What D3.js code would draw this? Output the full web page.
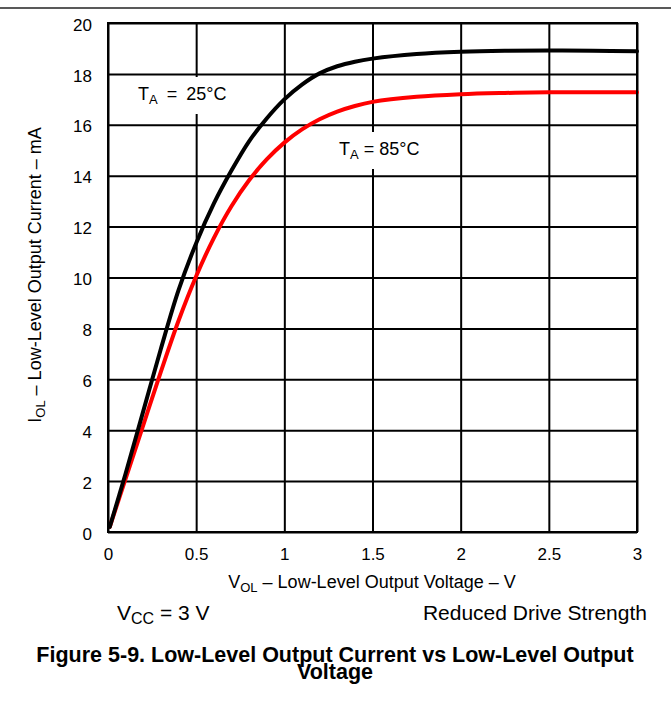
<!DOCTYPE html>
<html>
<head>
<meta charset="utf-8">
<script src="https://cdn.jsdelivr.net/npm/d3@7"></script>
<style>
  body { margin: 0; background: #fff; }
  svg { display: block; font-family: "Liberation Sans", Arial, sans-serif; }
</style>
</head>
<body>
<div id="chart"></div>
<script>
// values
var vol25 = [0.01, 0.1, 0.2, 0.3, 0.4, 0.5, 0.6, 0.7, 0.8, 0.9, 1.0, 1.1, 1.2, 1.3, 1.4, 1.5, 1.75, 2.0, 2.25, 2.5, 2.75, 3.0];
var iol25 = [0.2, 2.3, 4.75, 7.2, 9.5, 11.35, 12.9, 14.2, 15.35, 16.25, 17.0, 17.58, 18.02, 18.3, 18.48, 18.6, 18.78, 18.87, 18.91, 18.92, 18.91, 18.89];
var vol85 = [0.01, 0.1, 0.2, 0.3, 0.4, 0.5, 0.6, 0.7, 0.8, 0.9, 1.0, 1.1, 1.2, 1.3, 1.4, 1.5, 1.75, 2.0, 2.25, 2.5, 2.75, 3.0];
var iol85 = [0.2, 2.1, 4.2, 6.3, 8.3, 10.05, 11.55, 12.8, 13.82, 14.64, 15.3, 15.82, 16.22, 16.52, 16.74, 16.9, 17.1, 17.2, 17.25, 17.28, 17.28, 17.28];

var xTicks = [0, 0.5, 1, 1.5, 2, 2.5, 3];
var xTickLabels = ['0', '0.5', '1', '1.5', '2', '2.5', '3'];
var yTicks = [0, 2, 4, 6, 8, 10, 12, 14, 16, 18, 20];

(function() {
  var W = 671, H = 704;
  var pLeft = 108, pRight = 637, pTop = 23, pBottom = 532;

  var svg = d3.select('#chart').append('svg')
    .attr('width', W).attr('height', H);

  svg.append('rect').attr('width', W).attr('height', H).attr('fill', '#fff');

  // rule at the top of the page
  svg.append('line')
    .attr('x1', 0).attr('x2', W).attr('y1', 8).attr('y2', 8)
    .attr('stroke', '#222').attr('stroke-width', 1.3);

  var x = d3.scaleLinear().domain([0, 3]).range([pLeft, pRight]);
  var y = d3.scaleLinear().domain([0, 20]).range([pBottom, pTop]);

  // grid + tick labels
  var xAxis = svg.append('g')
    .attr('transform', 'translate(0,' + pBottom + ')')
    .call(d3.axisBottom(x).tickValues(xTicks)
      .tickFormat(function(d, i) { return xTickLabels[i]; })
      .tickSize(-(pBottom - pTop)).tickPadding(16));

  var yAxis = svg.append('g')
    .attr('transform', 'translate(' + pLeft + ',0)')
    .call(d3.axisLeft(y).tickValues(yTicks)
      .tickSize(-(pRight - pLeft)).tickPadding(16));

  [xAxis, yAxis].forEach(function(g) {
    g.select('.domain').remove();
    g.selectAll('.tick line').attr('stroke', '#000').attr('stroke-width', 2);
    g.selectAll('.tick text')
      .attr('fill', '#000')
      .style('font-size', '17px')
      .style('font-family', '"Liberation Sans", Arial, sans-serif');
  });
  yAxis.selectAll('.tick text').attr('dy', '0.42em');

  // curves
  var line = d3.line()
    .x(function(d) { return x(d[0]); })
    .y(function(d) { return y(d[1]); })
    .curve(d3.curveCatmullRom.alpha(0.5));

  svg.append('path')
    .datum(d3.zip(vol85, iol85))
    .attr('d', line)
    .attr('fill', 'none').attr('stroke', '#ff0000')
    .attr('stroke-width', 4).attr('stroke-linecap', 'round');

  svg.append('path')
    .datum(d3.zip(vol25, iol25))
    .attr('d', line)
    .attr('fill', 'none').attr('stroke', '#000')
    .attr('stroke-width', 4).attr('stroke-linecap', 'round');

  // plot frame
  svg.append('rect')
    .attr('x', pLeft).attr('y', pTop)
    .attr('width', pRight - pLeft).attr('height', pBottom - pTop)
    .attr('fill', 'none').attr('stroke', '#000').attr('stroke-width', 2);

  /**
   * Text with a subscript, e.g. T + A + " = 25°C"
   */
  function subText(g, px, py, main, sub, rest, size, subSize, anchor) {
    var t = g.append('text')
      .attr('x', px).attr('y', py)
      .attr('fill', '#000')
      .style('font-size', size + 'px')
      .attr('text-anchor', anchor || 'start');
    t.append('tspan').text(main);
    t.append('tspan').attr('dy', 4).style('font-size', subSize + 'px').text(sub);
    t.append('tspan').attr('dy', -4).text(rest);
    return t;
  }

  function boxedLabel(px, py, sub, rest, wordGap) {
    var g = svg.append('g');
    var bg = g.append('rect').attr('fill', '#fff');
    var t = subText(g, px, py, 'T', sub, rest, 18, 13)
      .style('word-spacing', wordGap + 'px');
    var b = t.node().getBBox();
    bg.attr('x', b.x - 6).attr('y', py - 23)
      .attr('width', b.width + 12).attr('height', 37);
  }

  boxedLabel(138, 100, 'A', ' = 25°C', 4);
  boxedLabel(339, 155, 'A', ' = 85°C', 0);

  // axis titles
  subText(svg, 372, 588, 'V', 'OL', ' – Low-Level Output Voltage – V', 18, 13, 'middle');

  var yt = svg.append('g').attr('transform', 'translate(41,275) rotate(-90)');
  subText(yt, 0, 0, 'I', 'OL', ' – Low-Level Output Current – mA', 18, 13, 'middle');

  // conditions
  subText(svg, 117, 620, 'V', 'CC', ' = 3 V', 21, 16);
  svg.append('text')
    .attr('x', 647).attr('y', 620)
    .attr('text-anchor', 'end')
    .style('font-size', '21px')
    .text('Reduced Drive Strength');

  // figure caption
  svg.append('text')
    .attr('x', 335).attr('y', 662)
    .attr('text-anchor', 'middle')
    .style('font-size', '21.5px').style('font-weight', 'bold')
    .text('Figure 5-9. Low-Level Output Current vs Low-Level Output');
  svg.append('text')
    .attr('x', 335).attr('y', 679)
    .attr('text-anchor', 'middle')
    .style('font-size', '21.5px').style('font-weight', 'bold')
    .text('Voltage');
})();
</script>
</body>
</html>
